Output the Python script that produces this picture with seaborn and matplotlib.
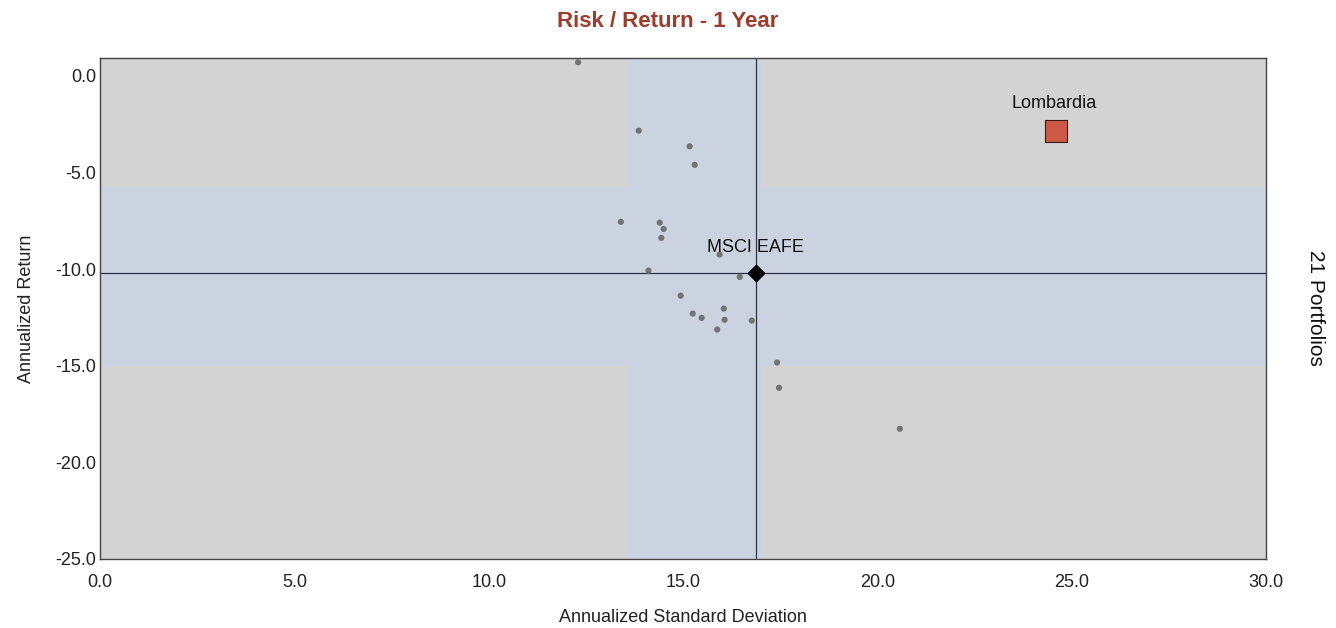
import matplotlib
matplotlib.use("Agg")
import matplotlib.pyplot as plt
import seaborn as sns
import pandas as pd

# Portfolio risk / return points (annualized std dev, annualized return)
portfolio_std = [12.30, 13.86, 15.17, 15.30, 13.40, 14.40, 14.50, 14.44, 15.94, 14.11,
                 16.46, 14.94, 16.05, 15.25, 15.48, 16.07, 16.77, 15.88, 17.42, 17.47, 20.58]
portfolio_ret = [0.71, -2.83, -3.64, -4.60, -7.55, -7.59, -7.92, -8.38, -9.24, -10.07,
                 -10.40, -11.37, -12.04, -12.30, -12.52, -12.62, -12.66, -13.12, -14.83, -16.14, -18.26]

benchmark_name = "MSCI EAFE"
benchmark_std = 16.87
benchmark_ret = -10.19

fund_name = "Lombardia"
fund_std = 24.59
fund_ret = -2.85

# Shaded bands around the peer group
band_std = [13.57, 17.02]
band_ret = [-14.99, -5.76]

x_ticks = [0, 5, 10, 15, 20, 25, 30]
y_ticks = [0, -5, -10, -15, -20, -25]

sns.set_theme(style="white")
plt.rcParams["font.family"] = ["Liberation Sans", "DejaVu Sans"]

fig = plt.figure(figsize=(13.36, 6.28), dpi=100)
ax = fig.add_axes([0.0749, 0.1099, 0.8727, 0.7977])
ax.set_facecolor("#d3d3d3")

band_color = "#ccd3e0"
ax.axvspan(band_std[0], band_std[1], color=band_color, lw=0, zorder=0)
ax.axhspan(band_ret[0], band_ret[1], color=band_color, lw=0, zorder=0)

ax.axvline(benchmark_std, color="#2a3449", lw=0.9, zorder=1)
ax.axhline(benchmark_ret, color="#2a3449", lw=0.9, zorder=1)

peers = pd.DataFrame({"std": portfolio_std, "ret": portfolio_ret})
sns.scatterplot(data=peers, x="std", y="ret", ax=ax, color="#737373", s=20,
                edgecolor="none", zorder=3, legend=False)

sns.scatterplot(x=[benchmark_std], y=[benchmark_ret], ax=ax, marker="D", color="black",
                s=75, edgecolor="black", zorder=4, legend=False)
ax.annotate(benchmark_name, (benchmark_std, benchmark_ret), xytext=(0, 12),
            textcoords="offset points", ha="center", va="bottom", fontsize=13,
            color="#111111", zorder=5)

sns.scatterplot(x=[fund_std], y=[fund_ret], ax=ax, marker="s", color="#cd5a47",
                s=260, edgecolor="#3a1c16", linewidth=0.8, zorder=4, legend=False)
ax.annotate(fund_name, (fund_std, fund_ret), xytext=(-1, 14),
            textcoords="offset points", ha="center", va="bottom", fontsize=13,
            color="#111111", zorder=5)

ax.set_xlim(0, 30)
ax.set_ylim(-25, 0.93)
ax.set_xticks(x_ticks)
ax.set_xticklabels([f"{v:.1f}" for v in x_ticks])
ax.set_yticks(y_ticks)
ax.set_yticklabels([f"{v:.1f}" for v in y_ticks])
ax.tick_params(axis="both", labelsize=13, colors="#222222", length=0)
ax.tick_params(axis="x", pad=11)
ax.tick_params(axis="y", pad=3)

for sp in ax.spines.values():
    sp.set_color("#444444")
    sp.set_linewidth(1.0)

ax.set_xlabel("Annualized Standard Deviation", fontsize=13, color="#222222", labelpad=13)
ax.set_ylabel("Annualized Return", fontsize=13, color="#222222", labelpad=14)

fig.text(0.5, 0.966, "Risk / Return - 1 Year", ha="center", va="center", fontsize=16,
         fontweight="bold", color="#9a3d2e")
fig.text(0.985, 0.51, "21 Portfolios", ha="center", va="center", rotation=-90,
         fontsize=15, color="#111111")

fig.savefig("out.png", dpi=100)
